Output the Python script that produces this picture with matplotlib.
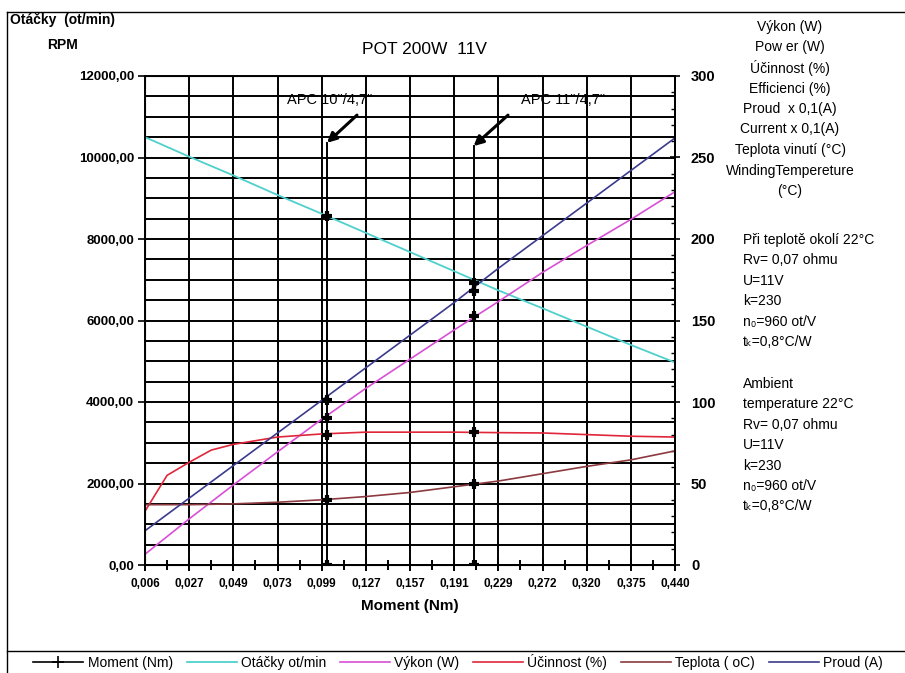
import numpy as np
import matplotlib
matplotlib.use("Agg")
import matplotlib.pyplot as plt
from matplotlib.lines import Line2D

plt.rcParams['font.family'] = ['Liberation Sans', 'DejaVu Sans']

# category axis: moment values (Nm), one per gridline
moment_labels = ["0,006", "0,027", "0,049", "0,073", "0,099", "0,127", "0,157",
                 "0,191", "0,229", "0,272", "0,320", "0,375", "0,440"]
idx = list(range(len(moment_labels)))

# left axis - speed (ot/min)
rpm = [10500, 10020, 9560, 9080, 8620, 8150, 7680, 7210, 6740, 6300, 5850, 5400, 4970]

# right axis series
vykon = [6.6, 28.3, 49.1, 69.4, 89.4, 108.4, 126.3, 144.2, 161.6, 179.5, 196, 212, 229]
proud = [21, 41, 61, 81, 101, 121, 141, 161, 182, 202, 222, 242, 262]
teplota = [37, 37, 37.5, 38.5, 40, 42, 44.5, 48, 51.5, 56, 60.5, 64.5, 70]
# efficiency read also at half steps near the start
ucin_x = [0, 0.5, 1, 1.5, 2, 3, 4, 5, 6, 7, 8, 9, 10, 11, 12]
ucinnost = [33, 55, 63, 70.5, 74, 78.5, 80.4, 81.5, 81.5, 81.5, 81.2, 81, 80, 79, 78.5]

# propeller operating points (position on category axis, marker values on right scale)
apc_names = ['APC 10"/4,7"', 'APC 11"/4,7"']
apc_x = [4.12, 7.44]
apc_top = [259, 257]
apc_marks = [[0, 40, 80, 90, 101, 214],
             [0, 50, 81.5, 153, 168, 173]]

left_ticks = [0, 2000, 4000, 6000, 8000, 10000, 12000]
left_labels = ["0,00", "2000,00", "4000,00", "6000,00", "8000,00", "10000,00", "12000,00"]
right_ticks = [0, 50, 100, 150, 200, 250, 300]

c_cyan = "#4fd0cc"
c_mag = "#d94fd6"
c_red = "#e0263a"
c_brown = "#8c3a3f"
c_navy = "#3b3b8e"

W, H = 905, 673
fig = plt.figure(figsize=(W / 100, H / 100), dpi=100)
ax = fig.add_axes([145 / W, 108 / H, 530 / W, 489 / H])
ax2 = ax.twinx()

# grid
ax.set_xlim(0, 12)
ax.set_ylim(0, 12000)
ax.set_xticks(idx)
ax.set_xticks(np.arange(0.5, 12, 1), minor=True)
ax.set_xticklabels(moment_labels, fontsize=8.5, fontweight='bold')
ax.set_yticks(left_ticks)
ax.set_yticks(np.arange(0, 12001, 500), minor=True)
ax.set_yticklabels(left_labels, fontsize=9.5, fontweight='bold')
ax.grid(True, which='major', axis='x', color='black', lw=1.4)
ax.grid(True, which='both', axis='y', color='black', lw=1.4)
ax.set_axisbelow(True)
ax.tick_params(axis='x', which='major', direction='inout', length=9, width=1.4, pad=5)
ax.tick_params(axis='x', which='minor', direction='inout', length=7, width=1.4)
ax.tick_params(axis='y', which='major', direction='out', length=5, width=1.2, pad=3)
ax.tick_params(axis='y', which='minor', length=0)
for s in ax.spines.values():
    s.set_linewidth(1.4)
ax.set_xlabel("Moment (Nm)", fontsize=11, fontweight='bold', labelpad=6)

ax2.set_ylim(0, 300)
ax2.set_yticks(right_ticks)
ax2.set_yticks(np.arange(0, 301, 10), minor=True)
ax2.set_yticklabels([str(t) for t in right_ticks], fontsize=10.5, fontweight='bold')
ax2.tick_params(axis='y', which='major', direction='inout', length=7, width=1.2, pad=8)
ax2.tick_params(axis='y', which='minor', direction='in', length=3, width=1)
ax2.spines['right'].set_linewidth(1.4)

# curves
l_rpm, = ax.plot(idx, rpm, color=c_cyan, lw=1.3)
l_vyk, = ax2.plot(idx, vykon, color=c_mag, lw=1.2)
l_uc, = ax2.plot(ucin_x, ucinnost, color=c_red, lw=1.2)
l_tep, = ax2.plot(idx, teplota, color=c_brown, lw=1.2)
l_pr, = ax2.plot(idx, proud, color=c_navy, lw=1.2)

# operating point lines and markers
for name, x, top, marks in zip(apc_names, apc_x, apc_top, apc_marks):
    ax2.plot([x, x], [0, top], color='black', lw=1.4, zorder=5)
    ax2.plot([x] * len(marks), marks, ls='none', marker='+', ms=7, mew=3,
             color='black', zorder=6)

ax2.annotate("", xy=(apc_x[0], apc_top[0]), xytext=(4.8, 276),
             arrowprops=dict(arrowstyle='-|>', color='black', lw=2.2,
                             mutation_scale=14, shrinkA=0, shrinkB=0), zorder=7)
ax2.text(4.19, 285.5, apc_names[0], fontsize=10.5, ha='center', va='center')
ax2.annotate("", xy=(apc_x[1], apc_top[1]), xytext=(8.22, 276),
             arrowprops=dict(arrowstyle='-|>', color='black', lw=2.2,
                             mutation_scale=14, shrinkA=0, shrinkB=0), zorder=7)
ax2.text(9.46, 285, apc_names[1], fontsize=10.5, ha='center', va='center')


def fy(py):
    return 1 - py / H


fig.text(424 / W, fy(50), "POT 200W  11V", fontsize=12.5, ha='center', va='center')
fig.text(10 / W, fy(20), "Otáčky  (ot/min)", fontsize=10, fontweight='bold', va='center')
fig.text(62 / W, fy(45), "RPM", fontsize=10, fontweight='bold', ha='center', va='center')

right_block = ["Výkon (W)", "Pow er (W)", "Účinnost (%)", "Efficienci (%)",
               "Proud  x 0,1(A)", "Current x 0,1(A)", "Teplota vinutí (°C)",
               "WindingTempereture", "(°C)"]
for i, t in enumerate(right_block):
    fig.text(790 / W, fy(27 + i * 20.5), t, fontsize=10, ha='center', va='center')

info_cz = ["Při teplotě okolí 22°C", "Rv= 0,07 ohmu", "U=11V", "k=230",
           "n₀=960 ot/V", "tₖ=0,8°C/W"]
info_en = ["Ambient", "temperature 22°C", "Rv= 0,07 ohmu", "U=11V", "k=230",
           "n₀=960 ot/V", "tₖ=0,8°C/W"]
for i, t in enumerate(info_cz):
    fig.text(743 / W, fy(240 + i * 20.4), t, fontsize=10, va='center')
for i, t in enumerate(info_en):
    fig.text(743 / W, fy(384 + i * 20.4), t, fontsize=10, va='center')

# chart frame and legend box
fig.add_artist(Line2D([7 / W, 7 / W], [0, fy(12)], color='black', lw=1))
fig.add_artist(Line2D([7 / W, 1], [fy(12), fy(12)], color='black', lw=1))
fig.add_artist(Line2D([7 / W, 1], [fy(651), fy(651)], color='black', lw=1))

h_mom = Line2D([], [], color='black', lw=1.2, marker='+', ms=8, mew=1.2)
fig.legend([h_mom, l_rpm, l_vyk, l_uc, l_tep, l_pr],
           ["Moment (Nm)", "Otáčky ot/min", "Výkon (W)", "Účinnost (%)",
            "Teplota ( oC)", "Proud (A)"],
           loc='center', bbox_to_anchor=(458 / W, fy(662)), ncol=6, frameon=False,
           fontsize=10, handlelength=3.6, columnspacing=1.0, handletextpad=0.3)

fig.savefig("out.png", dpi=100)
